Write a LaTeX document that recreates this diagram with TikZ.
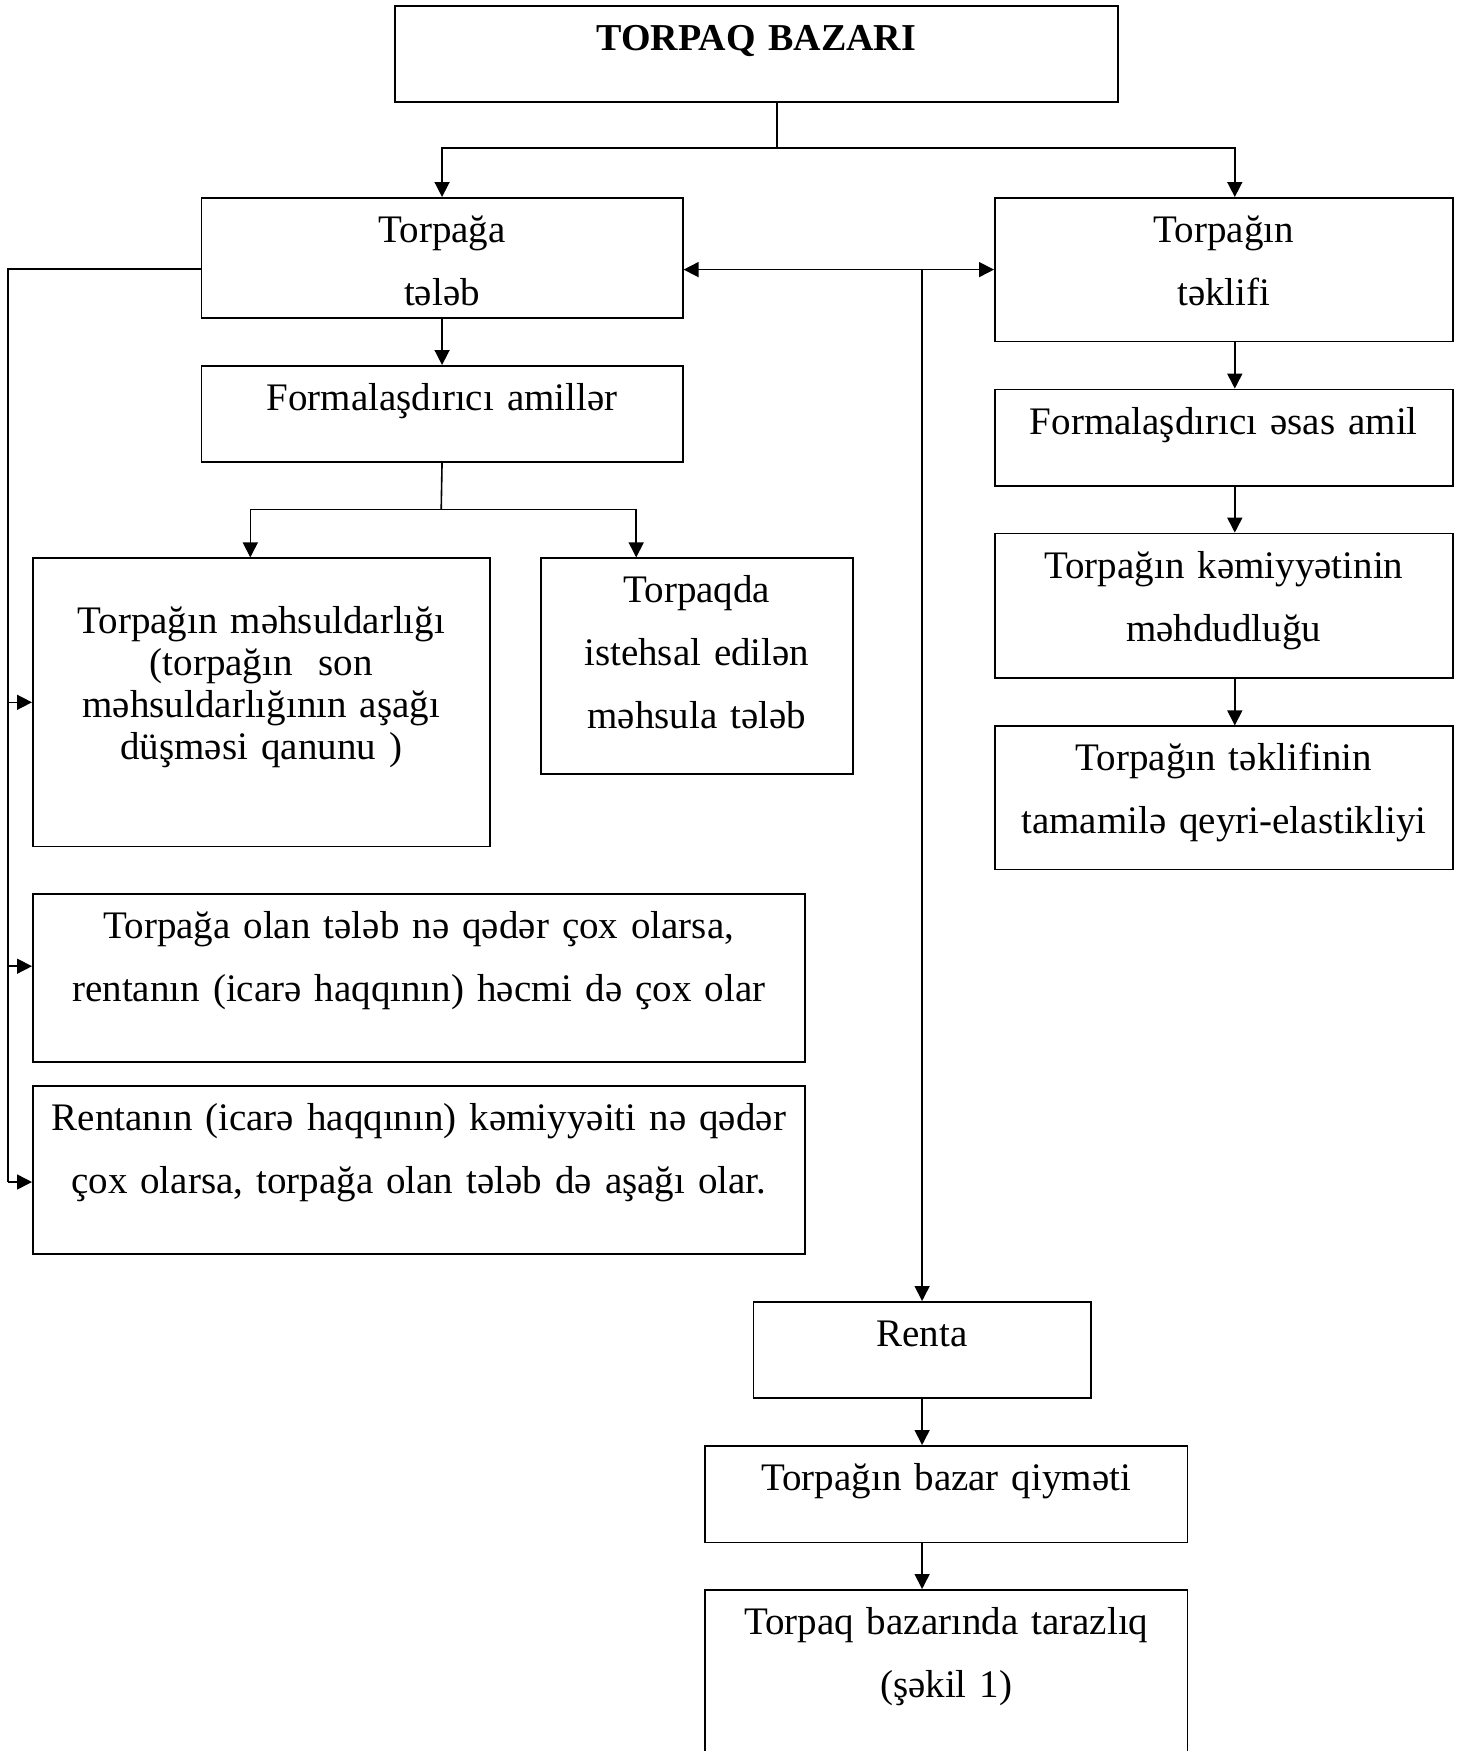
\documentclass[tikz,border=0pt]{standalone}
\usepackage{fontspec}
\setmainfont{Liberation Serif}
\usepackage{tikz}
\usetikzlibrary{arrows.meta,calc}

\begin{document}
\begin{tikzpicture}[x=1pt, y=-1pt, line width=0.8pt,
  box/.style={draw, inner xsep=0pt, inner ysep=4pt, align=center, anchor=north west, text height=18.3pt, font=\fontsize{19.5}{31.5}\selectfont},
  arr/.style={-{Triangle[length=7.5pt,width=7.5pt]}},
  dblarr/.style={{Triangle[length=7.5pt,width=7.5pt]}-{Triangle[length=7.5pt,width=7.5pt]}}]
  \useasboundingbox (0,0) rectangle (731,875.5);
  % top
  \node[box, text width=361.5pt, text depth=21.7pt, font=\fontsize{19}{31.5}\selectfont\bfseries] (bazar) at (197,2.5) {TORPAQ BAZARI};
  \node[box, text width=240.75pt, text depth=33.7pt] (talab) at (100.25,98.5) {Torpağa\\tələb};
  \node[box, text width=229pt, text depth=45.5pt] (taklif) at (497,98.5) {Torpağın\\təklifi};
  % demand side
  \node[box, text width=240.75pt, text depth=21.7pt] (amiller) at (100.25,182.5) {Formalaşdırıcı amillər};
  \node[box, text width=228.5pt, text height=33.8pt, text depth=102.3pt, font=\fontsize{19.5}{21}\selectfont] (mahsuldar) at (16,278.7) {Torpağın məhsuldarlığı\\(torpağın\ \ son\\məhsuldarlığının aşağı\\düşməsi qanunu )};
  \node[box, text width=156pt, text depth=81.7pt] (torpaqda) at (270,278.7) {Torpaqda\\istehsal edilən\\məhsula tələb};
  \node[box, text width=386pt, text depth=57.7pt] (olan) at (16,446.7) {Torpağa olan tələb nə qədər çox olarsa,\\rentanın (icarə haqqının) həcmi də çox olar};
  \node[box, text width=386pt, text depth=57.9pt] (rentanin) at (16,542.5) {Rentanın (icarə haqqının) kəmiyyəiti nə qədər\\çox olarsa, torpağa olan tələb də aşağı olar.};
  % supply side
  \node[box, text width=229pt, text depth=21.9pt] (esasamil) at (497,194.3) {Formalaşdırıcı əsas amil};
  \node[box, text width=229pt, text depth=46.1pt] (kamiyyat) at (497,266.3) {Torpağın kəmiyyətinin\\məhdudluğu};
  \node[box, text width=229pt, text depth=45.3pt] (qeyri) at (497,362.7) {Torpağın təklifinin\\tamamilə qeyri-elastikliyi};
  % rent chain
  \node[box, text width=168.7pt, text depth=21.9pt] (renta) at (376.3,650.5) {Renta};
  \node[box, text width=241.4pt, text depth=22pt] (qiymet) at (352,722.5) {Torpağın bazar qiyməti};
  \node[box, text width=241.4pt, text depth=73.7pt] (tarazliq) at (352,794.5) {Torpaq bazarında tarazlıq\\(şəkil 1)};

  \coordinate (split) at (388.5,74);
  \coordinate (bus) at (4,134.5);
  \coordinate (fork) at (220.6,254.7);
  \coordinate (taklifS) at ($(taklif.south)+(5.5,0)$);
  \coordinate (olanW) at ($(olan.west)+(0,-6)$);
  \coordinate (rentaninW) at ($(rentanin.west)+(0,6)$);

  \draw (split |- bazar.south) -- (split);
  \draw[arr] (split) -| (talab.north);
  \draw[arr] (split) -| (taklifS |- taklif.north);
  \draw[dblarr] (talab.east |- taklif.west) -- (taklif.west);
  \draw[arr] (renta.north |- taklif.west) -- (renta.north);
  % left bus
  \draw (talab.west |- bus) -- (bus) -- (bus |- rentaninW);
  \draw[arr] (bus |- mahsuldar.west) -- (mahsuldar.west);
  \draw[arr] (bus |- olanW) -- (olanW);
  \draw[arr] (bus |- rentaninW) -- (rentaninW);
  % demand factors
  \draw[arr] (talab) -- (amiller);
  \draw (amiller.south) -- (fork);
  \draw[arr] (fork) -| ($(mahsuldar.north)+(-5.5,0)$);
  \draw[arr] (fork) -| ($(torpaqda.north)+(-30.3,0)$);
  % supply factors
  \draw[arr] (taklifS) -- (taklifS |- esasamil.north);
  \draw[arr] (taklifS |- esasamil.south) -- (taklifS |- kamiyyat.north);
  \draw[arr] (taklifS |- kamiyyat.south) -- (taklifS |- qeyri.north);
  % rent chain
  \draw[arr] (renta.south) -- (renta.south |- qiymet.north);
  \draw[arr] (renta.south |- qiymet.south) -- (renta.south |- tarazliq.north);
\end{tikzpicture}
\end{document}
